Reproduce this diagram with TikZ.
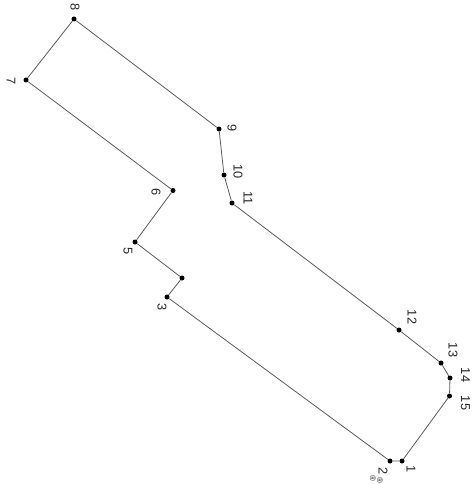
\documentclass[tikz,border=0pt]{standalone}
\usepackage{fontspec}
\setmainfont{Liberation Sans}
\tikzset{
  pt/.style={circle,fill=black,draw=none,inner sep=0pt,minimum size=5pt},
  lab/.style={rotate=-90,inner sep=0pt,font=\fontsize{12.8}{13}\selectfont,text=black!85},
  tiny/.style={rotate=-90,inner sep=0pt,font=\fontsize{8}{8}\selectfont,text=black!85},
  edge/.style={draw=black!65,line width=0.8pt}
}
\begin{document}
\begin{tikzpicture}[x=1pt,y=-1pt]
\useasboundingbox (0,0) rectangle (471,484);
\foreach \n/\x/\y in {p1/402/461,p2/390/461,p3/167/297,p4/182/278,p5/135/242,p6/173/190.5,p7/26/80,p8/74/19,p9/219/129,p10/224/175,p11/232/203,p12/399/330,p13/441/363,p14/450/378,p15/449.5/396}
  \node[pt] (\n) at (\x,\y) {};
\draw[edge] (p1)--(p2)--(p3)--(p4)--(p5)--(p6)--(p7)--(p8)--(p9)--(p10)--(p11)--(p12)--(p13)--(p14)--(p15)--(p1);
\node[lab] (l1) at (411,469) {1};
\node[lab] (l2) at (383,471) {2};
\node[lab] (l3) at (162,307) {3};
\node[lab] (l5) at (128,251) {5};
\node[lab] (l6) at (156,192) {6};
\node[lab] (l7) at (11,81) {7};
\node[lab] (l8) at (75,7) {8};
\node[lab] (l9) at (232,128) {9};
\node[lab] (l10) at (238,172) {10};
\node[lab] (l11) at (248,198) {11};
\node[lab] (l12) at (412,317) {12};
\node[lab] (l13) at (453,350) {13};
\node[lab] (l14) at (465.5,375) {14};
\node[lab] (l15) at (465.5,403) {15};
\node[tiny] (m1) at (373,478) {®};
\node[tiny] (m2) at (380,480) {®};
\end{tikzpicture}
\end{document}
